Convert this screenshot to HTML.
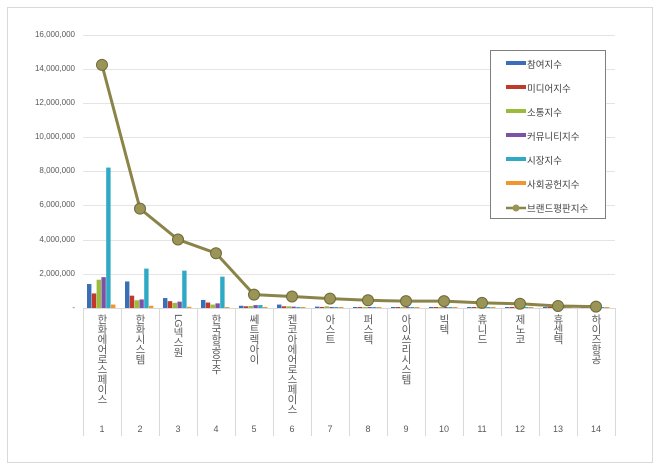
<!DOCTYPE html>
<html><head><meta charset="utf-8"><style>
body{margin:0;background:#fff;}
#c{position:relative;width:660px;height:470px;overflow:hidden;font-family:"Liberation Sans","Noto Sans CJK KR",sans-serif;}
.lab{position:absolute;top:314px;width:38px;text-align:center;writing-mode:vertical-rl;text-orientation:upright;font-size:10.5px;color:#595959;line-height:38px;letter-spacing:-0.5px;}
.num{position:absolute;top:424px;width:38px;text-align:center;font-size:9px;color:#595959;}
.yl{position:absolute;left:20px;width:55px;text-align:right;font-size:8px;color:#595959;}
.lg{position:absolute;left:527px;font-size:9.5px;color:#404040;}
</style></head><body><div id="c">
<svg width="660" height="470" style="position:absolute;left:0;top:0">
<rect x="7.5" y="7.5" width="645" height="455" fill="#fff" stroke="#d9d9d9"/>
<g stroke="#e4e4e4" stroke-width="1">
<line x1="83" x2="615" y1="35.5" y2="35.5"/><line x1="83" x2="615" y1="69.5" y2="69.5"/>
<line x1="83" x2="615" y1="103.5" y2="103.5"/><line x1="83" x2="615" y1="137.5" y2="137.5"/>
<line x1="83" x2="615" y1="171.5" y2="171.5"/><line x1="83" x2="615" y1="205.5" y2="205.5"/>
<line x1="83" x2="615" y1="240.5" y2="240.5"/><line x1="83" x2="615" y1="274.5" y2="274.5"/>
</g>
<g id="sep" stroke="#d9d9d9"></g>
<g id="bars"></g>
<polyline id="ln" fill="none" stroke="#8b8448" stroke-width="3"/>
<g id="mk"></g>
<rect x="490.5" y="50.5" width="115" height="168" fill="#fff" stroke="#7f7f7f"/>
<g id="lgs"></g>
</svg>
<div class="yl" style="top:30px">16,000,000</div><div class="yl" style="top:64px">14,000,000</div>
<div class="yl" style="top:98px">12,000,000</div><div class="yl" style="top:132px">10,000,000</div>
<div class="yl" style="top:166px">8,000,000</div><div class="yl" style="top:200px">6,000,000</div>
<div class="yl" style="top:235px">4,000,000</div><div class="yl" style="top:269px">2,000,000</div>
<div class="yl" style="top:303px">-</div>
<div class="lab" style="left:83px">한화에어로스페이스</div><div class="lab" style="left:121px">한화시스템</div>
<div class="lab" style="left:159px;text-orientation:mixed">LG넥스원</div><div class="lab" style="left:197px">한국항공우주</div>
<div class="lab" style="left:235px">쎄트렉아이</div><div class="lab" style="left:273px">켄코아에어로스페이스</div>
<div class="lab" style="left:311px">아스트</div><div class="lab" style="left:349px">퍼스텍</div>
<div class="lab" style="left:387px">아이쓰리시스템</div><div class="lab" style="left:425px">빅텍</div>
<div class="lab" style="left:463px">휴니드</div><div class="lab" style="left:501px">제노코</div>
<div class="lab" style="left:539px">휴센텍</div><div class="lab" style="left:577px">하이즈항공</div>
<div class="num" style="left:83px">1</div><div class="num" style="left:121px">2</div><div class="num" style="left:159px">3</div>
<div class="num" style="left:197px">4</div><div class="num" style="left:235px">5</div><div class="num" style="left:273px">6</div>
<div class="num" style="left:311px">7</div><div class="num" style="left:349px">8</div><div class="num" style="left:387px">9</div>
<div class="num" style="left:425px">10</div><div class="num" style="left:463px">11</div><div class="num" style="left:501px">12</div>
<div class="num" style="left:539px">13</div><div class="num" style="left:577px">14</div>
<div class="lg" style="top:57px">참여지수</div><div class="lg" style="top:81px">미디어지수</div>
<div class="lg" style="top:105px">소통지수</div><div class="lg" style="top:129px">커뮤니티지수</div>
<div class="lg" style="top:153px">시장지수</div><div class="lg" style="top:177px">사회공헌지수</div>
<div class="lg" style="top:201px">브랜드평판지수</div>
</div>
<script>
var NS="http://www.w3.org/2000/svg";
function el(p,t,a){var e=document.createElementNS(NS,t);for(var k in a)e.setAttribute(k,a[k]);document.getElementById(p).appendChild(e);}
var cols=["#3a6fb8","#c0392b","#9bbb3b","#7b52a6","#2eaac4","#f0962e"];
var d=[[1.4,.85,1.65,1.8,8.2,.2],[1.55,.72,.45,.5,2.3,.13],[.58,.4,.3,.37,2.18,.07],[.47,.32,.2,.27,1.83,.05],[.13,.1,.12,.17,.17,.03],[.2,.1,.1,.08,.05,.03],[.08,.06,.1,.06,.05,.02],[.06,.05,.05,.04,.04,.02],[.06,.04,.04,.04,.04,.02],[.06,.04,.04,.04,.04,.02],[.05,.04,.03,.03,.03,.02],[.05,.03,.03,.03,.03,.02],[.03,.03,.03,.02,.02,.02],[.03,.02,.02,.02,.02,.02]];
var L=[14.2,5.8,4.0,3.2,.78,.67,.55,.45,.4,.4,.3,.25,.12,.08];
function y(v){return 308-v*17.125;}
var pts=[];
for(var i=0;i<14;i++){var x0=83+i*38;
 el("sep","line",{x1:x0+.5,x2:x0+.5,y1:308,y2:436});
 for(var j=0;j<6;j++){var h=Math.max(d[i][j]*17.125,1);el("bars","rect",{x:x0+4+j*4.8,y:308-h,width:4.4,height:h,fill:cols[j]});}
 pts.push((x0+19)+","+y(L[i]));
 el("mk","circle",{cx:x0+19,cy:y(L[i]),r:5.5,fill:"#9a9456",stroke:"#6e6a3a","stroke-width":1});
}
el("sep","line",{x1:615.5,x2:615.5,y1:308,y2:436});
el("sep","line",{x1:83,x2:615,y1:308.5,y2:308.5});
document.getElementById("ln").setAttribute("points",pts.join(" "));
for(var j=0;j<6;j++)el("lgs","rect",{x:506,y:61+j*24,width:20,height:4,fill:cols[j]});
el("lgs","line",{x1:506,x2:526,y1:208,y2:208,stroke:"#8b8448","stroke-width":2.5});
el("lgs","circle",{cx:516,cy:208,r:3.5,fill:"#9a9456"});
</script>
</body></html>
